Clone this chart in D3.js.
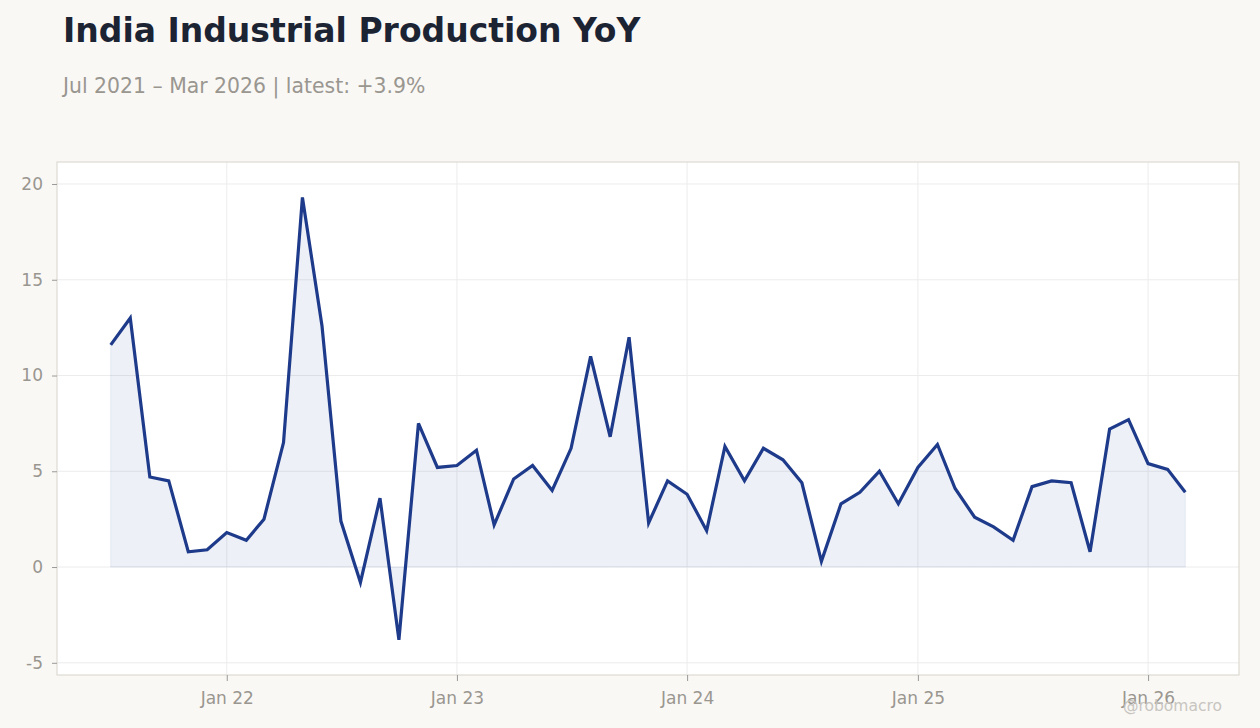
<!DOCTYPE html>
<html><head><meta charset="utf-8">
<script src="https://cdn.jsdelivr.net/npm/d3@7"></script>
<style>
body{margin:0;background:#f9f8f5;font-family:"DejaVu Sans",sans-serif;}
svg{display:block;}
</style></head>
<body><svg id="c" width="1260" height="728"></svg>
<script>
const startMonth = "2021-07";
const values = [
  11.6, 13.0, 4.7, 4.5, 0.8, 0.9,
  1.8, 1.4, 2.5, 6.5, 19.3, 12.6, 2.4, -0.8, 3.6, -3.8, 7.5, 5.2,
  5.3, 6.1, 2.2, 4.6, 5.3, 4.0, 6.2, 11.0, 6.8, 12.0, 2.3, 4.5,
  3.8, 1.9, 6.3, 4.5, 6.2, 5.6, 4.4, 0.3, 3.3, 3.9, 5.0, 3.3,
  5.2, 6.4, 4.1, 2.6, 2.1, 1.4, 4.2, 4.5, 4.4, 0.8, 7.2, 7.7,
  5.4, 5.1, 3.9
];
const yTicks = [-5, 0, 5, 10, 15, 20];
const xTickLabels = ["Jan 22", "Jan 23", "Jan 24", "Jan 25", "Jan 26"];
const xTickDates = ["2022-01", "2023-01", "2024-01", "2025-01", "2026-01"];
const titleText = "India Industrial Production YoY";
const subtitleText = "Jul 2021 – Mar 2026 | latest: +3.9%";
const watermark = "@robomacro";

const parseM = d3.timeParse("%Y-%m");
const t0 = parseM(startMonth);
const data = values.map((v, i) => ({date: d3.timeMonth.offset(t0, i), value: v}));

const svg = d3.select("#c");
const W = 1260, H = 728;
const m = {left: 57, right: 21, top: 162, bottom: 53};
const pw = W - m.left - m.right, ph = H - m.top - m.bottom;

svg.append("text").attr("x", 63).attr("y", 42).attr("fill", "#1c2434")
  .attr("font-size", 33).attr("font-weight", "bold").text(titleText);
svg.append("text").attr("x", 63).attr("y", 93).attr("fill", "#9a9690")
  .attr("font-size", 20.4).text(subtitleText);

const g = svg.append("g").attr("transform", `translate(${m.left},${m.top})`);
g.append("rect").attr("width", pw).attr("height", ph).attr("fill", "#fff");

const xExt = d3.extent(data, d => d.date);
const xSpan = xExt[1] - xExt[0];
const x = d3.scaleTime()
  .domain([new Date(+xExt[0] - xSpan * 0.05), new Date(+xExt[1] + xSpan * 0.05)])
  .range([0, pw]);
const yExt = d3.extent(values);
const ySpan = yExt[1] - yExt[0];
const y = d3.scaleLinear()
  .domain([yExt[0] - ySpan * 0.0795, yExt[1] + ySpan * 0.08])
  .range([ph, 0]);

const xt = xTickDates.map(parseM);
// grid
g.append("g").selectAll("line").data(yTicks).join("line")
  .attr("x1", 0).attr("x2", pw).attr("y1", d => y(d)).attr("y2", d => y(d))
  .attr("stroke", "#ececec").attr("stroke-width", 1);
g.append("g").selectAll("line").data(xt).join("line")
  .attr("y1", 0).attr("y2", ph).attr("x1", d => x(d)).attr("x2", d => x(d))
  .attr("stroke", "#ececec").attr("stroke-width", 1);

// area
const area = d3.area().x(d => x(d.date)).y0(y(0)).y1(d => y(d.value));
g.append("path").datum(data).attr("d", area)
  .attr("fill", "#1e3a8a").attr("fill-opacity", 0.08)
  .attr("stroke", "#1e3a8a").attr("stroke-opacity", 0.08);
const line = d3.line().x(d => x(d.date)).y(d => y(d.value));
g.append("path").datum(data).attr("d", line)
  .attr("fill", "none").attr("stroke", "#1e3a8a").attr("stroke-width", 3.2)
  .attr("stroke-linejoin", "miter");

// frame
g.append("rect").attr("width", pw).attr("height", ph).attr("fill", "none")
  .attr("stroke", "#dedad3").attr("stroke-width", 1.2);

// axes
const yAxis = d3.axisLeft(y).tickValues(yTicks).tickSize(5).tickPadding(9)
  .tickFormat(d => String(d));
const ya = g.append("g").call(yAxis);
ya.select(".domain").remove();
ya.selectAll("line").attr("stroke", "#999");
ya.selectAll("text").attr("fill", "#9a9690").attr("font-size", 17)
  .attr("font-family", "DejaVu Sans");

const xAxis = d3.axisBottom(x).tickValues(xt).tickSize(6).tickPadding(11)
  .tickFormat((d, i) => xTickLabels[i]);
const xa = g.append("g").attr("transform", `translate(0,${ph})`).call(xAxis);
xa.select(".domain").remove();
xa.selectAll("line").attr("stroke", "#999");
xa.selectAll("text").attr("fill", "#9a9690").attr("font-size", 17)
  .attr("font-family", "DejaVu Sans");

svg.append("text").attr("x", 1222).attr("y", 711).attr("text-anchor", "end")
  .attr("fill", "#c8c5c0").attr("font-size", 15.5).text(watermark);
</script></body></html>
